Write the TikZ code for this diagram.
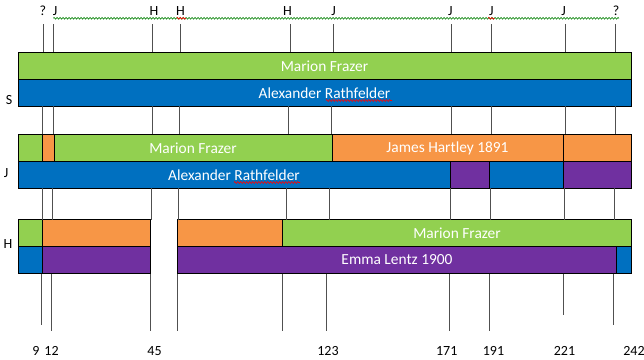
\documentclass[tikz,border=0pt]{standalone}
\usepackage{fontspec}
\setmainfont{Carlito}
\usetikzlibrary{decorations.pathmorphing}
\definecolor{cgreen}{HTML}{92D050}
\definecolor{cblue}{HTML}{0070C0}
\definecolor{corange}{HTML}{F79646}
\definecolor{cpurple}{HTML}{7030A0}
\definecolor{cline}{HTML}{505050}
\tikzset{
  seg/.style={draw=black, line width=0.9bp},
  lbl/.style={text=white, font=\fontsize{15.4bp}{17bp}\selectfont, inner sep=0pt},
  axlbl/.style={text=black, font=\fontsize{14bp}{16bp}\selectfont, inner sep=0pt},
  tick/.style={draw=cline, line width=1bp},
  squig/.style={decorate, decoration={zigzag, segment length=3bp, amplitude=0.9bp}, line width=0.6bp},
}
\begin{document}
\begin{tikzpicture}[x=1bp,y=-1bp]
\useasboundingbox (0,0) rectangle (644,359);
% ---- S row ----
\filldraw[seg, fill=cgreen] (18,52) rectangle (631,79);
\filldraw[seg, fill=cblue] (18,79) rectangle (631,106);
\node[lbl] (s1) at (324.5,66) {Marion Frazer};
\node[lbl] (s2) at (324.5,93) {Alexander Rathfelder};
% ---- J row ----
\filldraw[seg, fill=cgreen] (18,134) rectangle (42,161);
\filldraw[seg, fill=corange] (42,134) rectangle (54,161);
\filldraw[seg, fill=cgreen] (54,134) rectangle (332,161);
\filldraw[seg, fill=corange] (332,134) rectangle (563.5,161);
\filldraw[seg, fill=corange] (563.5,134) rectangle (631,161);
\filldraw[seg, fill=cblue] (18,161) rectangle (450,188);
\filldraw[seg, fill=cpurple] (450,161) rectangle (489.5,188);
\filldraw[seg, fill=cblue] (489.5,161) rectangle (563.5,188);
\filldraw[seg, fill=cpurple] (563.5,161) rectangle (631,188);
\node[lbl] (j1) at (193,148) {Marion Frazer};
\node[lbl] (j2) at (447.5,148) {James Hartley 1891};
\node[lbl] (j3) at (234,175) {Alexander Rathfelder};
% ---- H row ----
\filldraw[seg, fill=cgreen] (18,219.5) rectangle (42,246.5);
\filldraw[seg, fill=corange] (42,219.5) rectangle (150.5,246.5);
\filldraw[seg, fill=corange] (177.5,219.5) rectangle (282.5,246.5);
\filldraw[seg, fill=cgreen] (282.5,219.5) rectangle (631,246.5);
\filldraw[seg, fill=cblue] (18,246.5) rectangle (42,273.5);
\filldraw[seg, fill=cpurple] (42,246.5) rectangle (150.5,273.5);
\filldraw[seg, fill=cpurple] (177.5,246.5) rectangle (616,273.5);
\filldraw[seg, fill=cblue] (616,246.5) rectangle (631,273.5);
\node[lbl] (h1) at (457,233) {Marion Frazer};
\node[lbl] (h2) at (397,260) {Emma Lentz 1900};
% ---- row labels ----
\node[axlbl] (rS) at (9,100) {S};
\node[axlbl] (rJ) at (6,173) {J};
\node[axlbl] (rH) at (8,244) {H};
% ---- tick lines ----
\foreach \a/\b/\c/\d/\e in {43.3/42.7/42.3/41/325, 53.3/53/52.3/51/331, 152.7/152.2/151.7/150/331,
  180/179/178.3/177/331, 290.3/288.2/286.3/282/331, 333.7/331.7/329.3/326/331,
  451.7/451/450.3/449/331, 491.3/491/490.3/489.3/331, 565.3/565/564.3/563.3/315, 615.7/615.2/614.3/613.3/325}{
  \draw[tick] (\a,24) -- (\a,52);
  \draw[tick] (\b,106) -- (\b,134);
  \draw[tick] (\c,188) -- (\c,219.5);
  \draw[tick] (\d,273.5) -- (\d,\e);
}
% ---- top labels ----
\node[axlbl] (t1) at (42.8,11) {?};
\node[axlbl] (t2) at (55,11) {J};
\node[axlbl] (t3) at (154,11) {H};
\node[axlbl] (t4) at (180.5,11) {H};
\node[axlbl] (t5) at (287.5,11) {H};
\node[axlbl] (t6) at (333.7,11) {J};
\node[axlbl] (t7) at (450.3,11) {J};
\node[axlbl] (t8) at (491.3,11) {J};
\node[axlbl] (t9) at (563.7,11) {J};
\node[axlbl] (t10) at (616,11) {?};
% ---- bottom labels ----
\node[axlbl] (b1) at (36,351) {9};
\node[axlbl] (b2) at (51.5,351) {12};
\node[axlbl] (b3) at (154.5,351) {45};
\node[axlbl] (b4) at (328,351) {123};
\node[axlbl] (b5) at (446.7,351) {171};
\node[axlbl] (b6) at (493.5,351) {191};
\node[axlbl] (b7) at (564.5,351) {221};
\node[axlbl] (b8) at (634,351) {242};
% ---- spell-check squiggles ----
\draw[squig, draw=green!50!black] (53.3,18.3) -- (619,18.3);
\draw[squig, draw=red] (176.7,18.3) -- (186,18.3);
\draw[squig, draw=red] (488,18.3) -- (494.5,18.3);
\draw[squig, draw=red] (326,100.5) -- (392,100.5);
\draw[squig, draw=red] (234,182.5) -- (300,182.5);
\end{tikzpicture}
\end{document}
